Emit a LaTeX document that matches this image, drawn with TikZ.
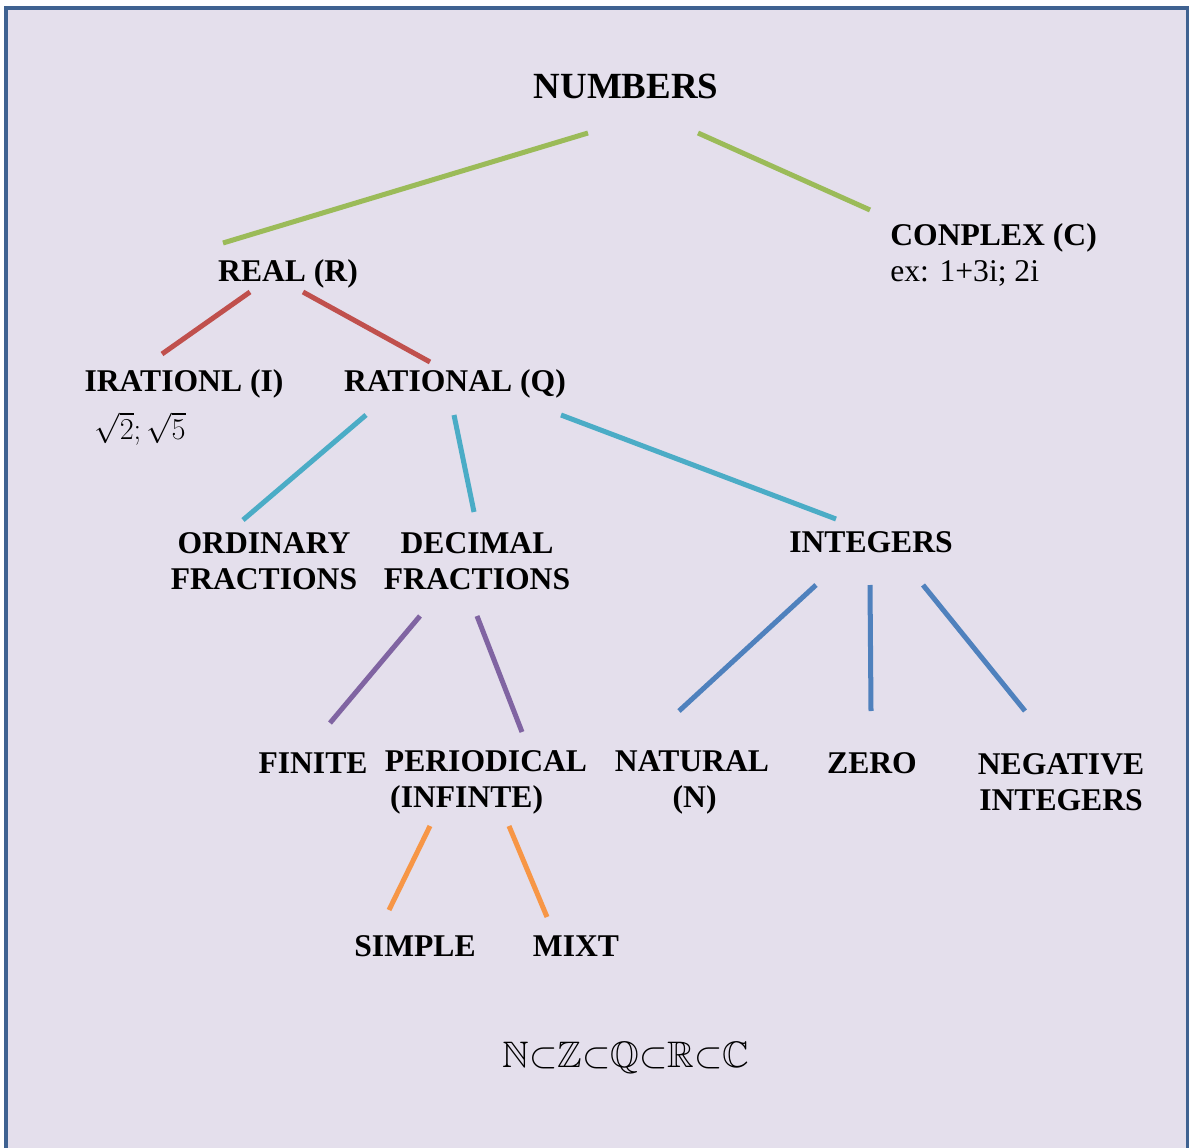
\documentclass[tikz,border=0pt]{standalone}
\usepackage{amssymb}
\usepackage{fontspec}
\setmainfont{Liberation Serif}

\definecolor{bgcol}{HTML}{E4DFEC}
\definecolor{framecol}{HTML}{3F6291}
\definecolor{lgreen}{HTML}{9BBB59}
\definecolor{lred}{HTML}{C0504D}
\definecolor{lcyan}{HTML}{4BACC6}
\definecolor{lpurple}{HTML}{8064A2}
\definecolor{lblue}{HTML}{4F81BD}
\definecolor{lorange}{HTML}{F79646}

\tikzset{
	lbl/.style={font=\bfseries\fontsize{18}{20.5}\selectfont, align=center, inner sep=0pt},
	txt/.style={font=\fontsize{18}{20.5}\selectfont, inner sep=0pt},
	branch/.style={line width=2.85pt}
}

\begin{document}
\begin{tikzpicture}[x=0.02cm,y=-0.02cm]
	\useasboundingbox (0,0) rectangle (1189,1148);
	\fill[bgcol] (6,8) rectangle (1188,1148);
	\draw[framecol, line width=2pt] (6,1150) -- (6,8) -- (1188,8) -- (1188,1150);

	\node[lbl, font=\bfseries\fontsize{21}{24}\selectfont] (num) at (626,86) {NUMBERS};
	\node[lbl] (real) at (288,274) {REAL (R)};
	\node[lbl, anchor=west] (cpx) at (890,238) {CONPLEX (C)};
	\node[txt, anchor=west] (cpxex) at (890,273) {ex: 1+3i; 2i};

	\node[lbl] (irr) at (184,384) {IRATIONL (I)};
	\node[txt] (irrex) at (140,429) {$\sqrt{2};\sqrt{5}$};
	\node[lbl] (rat) at (455,384) {RATIONAL (Q)};

	\node[lbl] (ord) at (264,561) {ORDINARY\\FRACTIONS};
	\node[lbl] (dec) at (477,561) {DECIMAL\\FRACTIONS};
	\node[lbl] (int) at (871,542) {INTEGERS};

	\node[lbl] (fin) at (313,763) {FINITE};
	\node[lbl, align=left] (per) at (486,782) {PERIODICAL\\\,(INFINTE)};
	\node[lbl] (nat) at (692,782) {NATURAL\\\,(N)};
	\node[lbl] (zero) at (872,763) {ZERO};
	\node[lbl] (neg) at (1061,782) {NEGATIVE\\INTEGERS};

	\node[lbl] (simp) at (415,946) {SIMPLE};
	\node[lbl] (mixt) at (576,946) {MIXT};

	\node[txt, font=\fontsize{21}{24}\selectfont] (incl) at (626,1058) {$\mathbb{N}{\subset}\mathbb{Z}{\subset}\mathbb{Q}{\subset}\mathbb{R}{\subset}\mathbb{C}$};

	% line ends
	\coordinate (num-l) at (588,133);
	\coordinate (num-r) at (698,133);
	\coordinate (real-t) at (223,243);
	\coordinate (cpx-t) at (870,210);
	\coordinate (real-l) at (250,292);
	\coordinate (real-r) at (303,292);
	\coordinate (irr-t) at (162,354);
	\coordinate (rat-t) at (430,362);
	\coordinate (rat-l) at (366,415);
	\coordinate (rat-m) at (454,415);
	\coordinate (rat-r) at (561,415);
	\coordinate (ord-t) at (243,520);
	\coordinate (dec-t) at (474,512);
	\coordinate (int-t) at (836,519);
	\coordinate (dec-l) at (420,616);
	\coordinate (dec-r) at (477,616);
	\coordinate (fin-t) at (330,723);
	\coordinate (per-t) at (522,732);
	\coordinate (int-l) at (816,585);
	\coordinate (int-m) at (870,585);
	\coordinate (int-r) at (923,585);
	\coordinate (nat-t) at (679,711);
	\coordinate (zero-t) at (871,711);
	\coordinate (neg-t) at (1025,711);
	\coordinate (per-l) at (430,826);
	\coordinate (per-r) at (509,826);
	\coordinate (simp-t) at (389,910);
	\coordinate (mixt-t) at (547,917);

	\draw[branch, lgreen] (num-l) -- (real-t);
	\draw[branch, lgreen] (num-r) -- (cpx-t);

	\draw[branch, lred] (real-l) -- (irr-t);
	\draw[branch, lred] (real-r) -- (rat-t);

	\draw[branch, lcyan] (rat-l) -- (ord-t);
	\draw[branch, lcyan] (rat-m) -- (dec-t);
	\draw[branch, lcyan] (rat-r) -- (int-t);

	\draw[branch, lpurple] (dec-l) -- (fin-t);
	\draw[branch, lpurple] (dec-r) -- (per-t);

	\draw[branch, lblue] (int-l) -- (nat-t);
	\draw[branch, lblue] (int-m) -- (zero-t);
	\draw[branch, lblue] (int-r) -- (neg-t);

	\draw[branch, lorange] (per-l) -- (simp-t);
	\draw[branch, lorange] (per-r) -- (mixt-t);

\end{tikzpicture}
\end{document}
